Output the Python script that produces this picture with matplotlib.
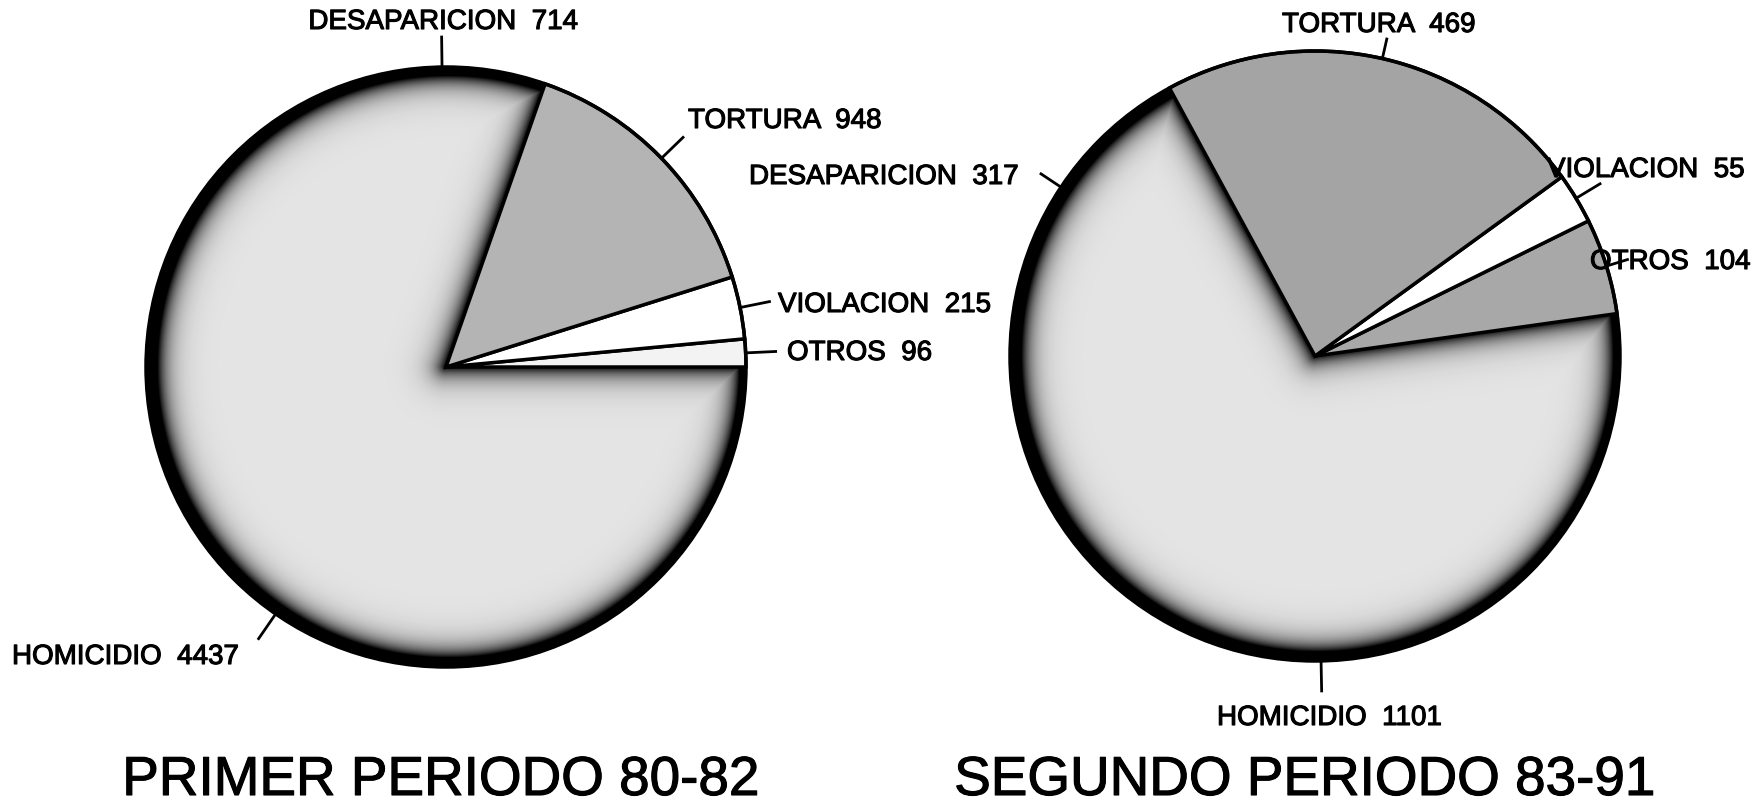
import matplotlib
matplotlib.use("Agg")
import matplotlib.pyplot as plt
import matplotlib.patheffects as pe
from matplotlib.patches import Circle
import numpy as np

# --------------------------
# DATA
# --------------------------
categorias = ["OTROS", "VIOLACION", "TORTURA", "DESAPARICION", "HOMICIDIO"]
primer_periodo = [96, 215, 948, 714, 4437]
segundo_periodo = [104, 55, 469, 317, 1101]
titulos = ["PRIMER PERIODO 80-82", "SEGUNDO PERIODO 83-91"]

W, H = 1759, 806

# fills per slice (same order as categorias)
fill_primer = ["#f3f3f3", "white", "#b4b4b4", "#e4e4e4", "#e4e4e4"]
fill_segundo = ["#a8a8a8", "white", "#a4a4a4", "#e4e4e4", "#e4e4e4"]

# label layout: (text left x, text center y in px from top, leader length, text center x)
lay_primer = {
    "DESAPARICION": (None, 22, 30, 443),
    "TORTURA": (688, 121, 30, None),
    "VIOLACION": (778, 305, 30, None),
    "OTROS": (787, 353, 30, None),
    "HOMICIDIO": (12, 657, 30, None),
}
lay_segundo = {
    "TORTURA": (1282, 25, 20, None),
    "VIOLACION": (1547, 170, 28, None),
    "OTROS": (1590, 262, 22, None),
    "DESAPARICION": (749, 177, 24, None),
    "HOMICIDIO": (1217, 718, 30, None),
}

label_font = "Liberation Sans"
ink = [pe.withStroke(linewidth=0.8, foreground="black")]


def draw_pie(ax, values, center_px, radius, start, fills, layout):
    cx, cy = center_px[0], H - center_px[1]
    wedges, _ = ax.pie(values, startangle=start, counterclock=True,
                       center=(cx, cy), radius=radius, colors=fills,
                       wedgeprops=dict(linewidth=0))
    for w in wedges[:3]:
        w.set_edgecolor("black")
        w.set_linewidth(2.5)
        w.set_zorder(4)
    for w in wedges[3:]:
        w.set_edgecolor(w.get_facecolor())
        w.set_linewidth(1.5)
        w.set_zorder(2)

    # shaded rim on the light area (desaparicion + homicidio)
    th_a = wedges[3].theta1
    th_b = wedges[4].theta2
    span = th_b - th_a
    xs = np.arange(cx - radius, cx + radius + 1)
    ys = np.arange(cy - radius, cy + radius + 1)
    X, Y = np.meshgrid(xs, ys)
    dx, dy = X - cx, Y - cy
    r = np.hypot(dx, dy)
    phi = np.degrees(np.arctan2(dy, dx))
    inside = ((phi - th_a) % 360 <= span) & (r <= radius)

    def edge_dist(theta):
        diff = np.radians(phi - theta)
        return np.where(np.cos(diff) > 0, r * np.abs(np.sin(diff)), r)

    d_rim = radius - r
    d0 = 9 - 3 * np.cos(np.radians(phi))
    a_rim = np.clip(np.exp(-(d_rim - d0) / 11.0), 0, 1)
    d_edge = np.minimum(edge_dist(th_a), edge_dist(th_b))
    a_edge = np.clip(0.95 * np.exp(-(d_edge - 1) / 11.0), 0, 1)
    rgba = np.zeros(X.shape + (4,))
    rgba[..., 3] = np.where(inside, np.maximum(a_rim, a_edge), 0)
    im = ax.imshow(rgba, extent=(xs[0] - 0.5, xs[-1] + 0.5, ys[0] - 0.5, ys[-1] + 0.5),
                   origin="lower", zorder=3, interpolation="bilinear")
    im.set_clip_path(Circle((cx, cy), radius, transform=ax.transData))

    ax.add_patch(Circle((cx, cy), radius, fill=False, edgecolor="black",
                        linewidth=2.5, zorder=5))

    # labels with radial leader lines
    for w, cat, val in zip(wedges, categorias, values):
        tx, ty, length, tcx = layout[cat]
        mid = np.radians((w.theta1 + w.theta2) / 2)
        x0, y0 = cx + radius * np.cos(mid), cy + radius * np.sin(mid)
        x1, y1 = cx + (radius + length) * np.cos(mid), cy + (radius + length) * np.sin(mid)
        ax.plot([x0, x1], [y0, y1], color="black", linewidth=2, zorder=6)
        txt = f"{cat}  {val}"
        if tcx is not None:
            ax.text(tcx, H - ty, txt, ha="center", va="center", fontsize=20,
                    family=label_font, zorder=7, path_effects=ink)
        else:
            ax.text(tx, H - ty, txt, ha="left", va="center", fontsize=20,
                    family=label_font, zorder=7, path_effects=ink)


fig = plt.figure(figsize=(W / 100, H / 100), dpi=100)
ax = fig.add_axes([0, 0, 1, 1])

draw_pie(ax, primer_periodo, (446, 367), 300, 0, fill_primer, lay_primer)
draw_pie(ax, segundo_periodo, (1315, 356), 305, 8, fill_segundo, lay_segundo)

ax.text(441, H - 781, titulos[0], ha="center", va="center",
        fontsize=39.5, family=label_font, path_effects=ink)
ax.text(1305, H - 781, titulos[1], ha="center", va="center",
        fontsize=39.5, family=label_font, path_effects=ink)

ax.set_xlim(0, W)
ax.set_ylim(0, H)
ax.set_aspect("auto")
ax.axis("off")

fig.savefig("out.png", dpi=100, facecolor="white")
